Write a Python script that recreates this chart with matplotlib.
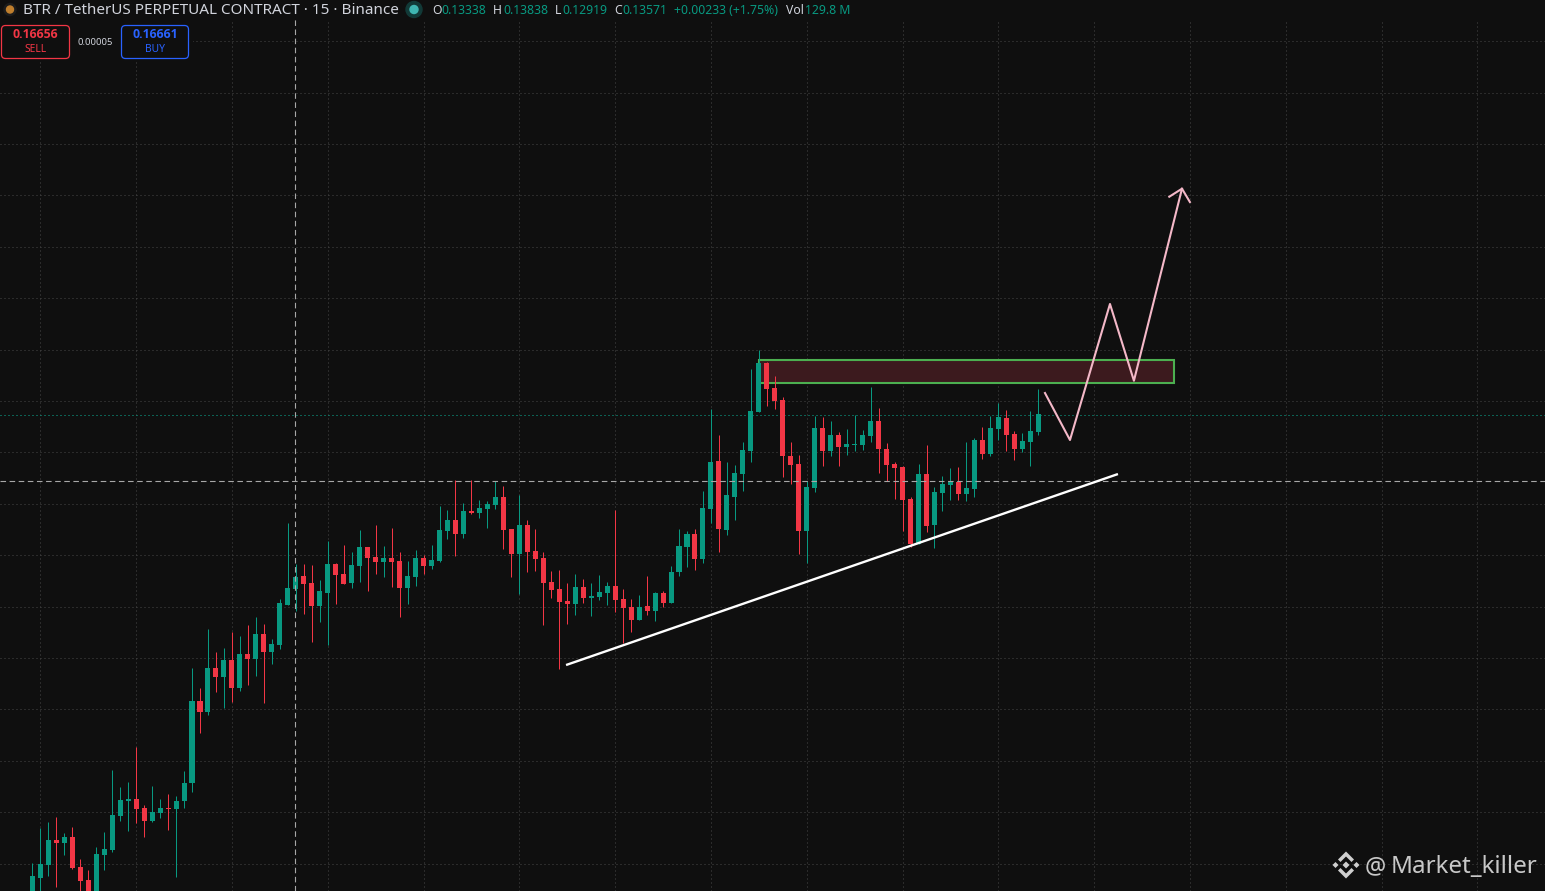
import matplotlib
matplotlib.use("Agg")
import matplotlib.pyplot as plt
from matplotlib.patches import Circle, FancyBboxPatch, Polygon, Rectangle
import numpy as np

# candles (15m BTR/USDT)
opens = [0.07429, 0.07721, 0.07974, 0.08460, 0.08402, 0.08518, 0.07934, 0.07682, 0.07390, 0.08168,
         0.08265, 0.08927, 0.09219, 0.09257, 0.09082, 0.08829, 0.08985, 0.09082, 0.09062, 0.09219,
         0.09569, 0.11164, 0.10950, 0.11806, 0.11631, 0.11962, 0.11417, 0.12078, 0.11981, 0.12468,
         0.12117, 0.12253, 0.13032, 0.13338, 0.13596, 0.13460, 0.13012, 0.13265, 0.13829, 0.13635,
         0.13460, 0.13790, 0.14160, 0.13965, 0.13868, 0.13946, 0.13887, 0.13362, 0.13576, 0.13946,
         0.13790, 0.13887, 0.14471, 0.14685, 0.14413, 0.14860, 0.14821, 0.14899, 0.14977, 0.15133,
         0.14510, 0.14024, 0.14588, 0.14082, 0.13946, 0.13479, 0.13343, 0.13110, 0.13051, 0.13382,
         0.13168, 0.13187, 0.13265, 0.13401, 0.13148, 0.12992, 0.12740, 0.13012, 0.12915, 0.13265,
         0.13071, 0.13674, 0.14160, 0.14413, 0.13927, 0.14899, 0.15833, 0.14491, 0.15133, 0.15580,
         0.16028, 0.16787, 0.17740, 0.17254, 0.17020, 0.15931, 0.15775, 0.14471, 0.15308, 0.16475,
         0.16028, 0.16339, 0.16106, 0.16145, 0.16145, 0.16320, 0.16611, 0.16067, 0.15775, 0.15716,
         0.15094, 0.14219, 0.15580, 0.14588, 0.15211, 0.15366, 0.15425, 0.15191, 0.15289, 0.16242,
         0.15969, 0.16456, 0.16670, 0.16359, 0.16067, 0.16203, 0.16397]
highs = [0.08013, 0.08693, 0.08810, 0.08907, 0.08596, 0.08712, 0.08090, 0.07876, 0.08323, 0.08615,
         0.09822, 0.09491, 0.09588, 0.10269, 0.09141, 0.09510, 0.09257, 0.09355, 0.09316, 0.09802,
         0.11806, 0.11417, 0.12565, 0.12117, 0.12195, 0.12506, 0.12429, 0.12643, 0.12799, 0.12662,
         0.12370, 0.13148, 0.14627, 0.13838, 0.13829, 0.13810, 0.13518, 0.14277, 0.13849, 0.14199,
         0.14063, 0.14491, 0.14160, 0.14588, 0.14180, 0.14530, 0.14063, 0.13887, 0.14102, 0.14005,
         0.14199, 0.14958, 0.14880, 0.15464, 0.15016, 0.15464, 0.15075, 0.15055, 0.15444, 0.15347,
         0.14510, 0.15172, 0.14685, 0.14510, 0.14063, 0.13693, 0.13713, 0.13460, 0.13635, 0.13538,
         0.13460, 0.13616, 0.13479, 0.14880, 0.13343, 0.13148, 0.13226, 0.13596, 0.13285, 0.13304,
         0.13790, 0.14510, 0.14471, 0.14510, 0.15250, 0.16845, 0.16339, 0.15814, 0.15755, 0.16203,
         0.17623, 0.17993, 0.17759, 0.17487, 0.17079, 0.16203, 0.15950, 0.15444, 0.16709, 0.16689,
         0.16611, 0.16397, 0.16456, 0.16729, 0.16436, 0.17273, 0.16864, 0.16184, 0.15814, 0.15736,
         0.15133, 0.15775, 0.16145, 0.15327, 0.15541, 0.15697, 0.15716, 0.16203, 0.16281, 0.16495,
         0.16709, 0.16962, 0.16825, 0.16417, 0.16378, 0.16806, 0.17234]
lows = [0.07293, 0.07390, 0.07759, 0.07546, 0.08168, 0.07896, 0.07390, 0.07293, 0.07293, 0.07876,
        0.08226, 0.08829, 0.08634, 0.08791, 0.08518, 0.08810, 0.08888, 0.08654, 0.07740, 0.09082,
        0.09394, 0.10541, 0.10892, 0.11339, 0.11028, 0.11145, 0.11359, 0.11475, 0.11650, 0.11125,
        0.11884, 0.12175, 0.13032, 0.12919, 0.12856, 0.12312, 0.12701, 0.12253, 0.13051, 0.13440,
        0.13362, 0.13479, 0.13304, 0.13635, 0.13576, 0.13382, 0.12799, 0.13051, 0.13401, 0.13635,
        0.13732, 0.13868, 0.14316, 0.13985, 0.14335, 0.14802, 0.14724, 0.14530, 0.14899, 0.14121,
        0.13576, 0.13246, 0.13674, 0.13693, 0.12643, 0.13168, 0.11787, 0.12662, 0.12837, 0.13071,
        0.12818, 0.13129, 0.13032, 0.12895, 0.12292, 0.12506, 0.12740, 0.12837, 0.12720, 0.12992,
        0.13071, 0.13596, 0.13771, 0.13713, 0.13849, 0.14627, 0.14063, 0.14394, 0.14685, 0.15250,
        0.15814, 0.16787, 0.16903, 0.16845, 0.15522, 0.15386, 0.14024, 0.13849, 0.15230, 0.15736,
        0.15931, 0.15736, 0.15950, 0.16028, 0.16047, 0.16203, 0.15600, 0.15444, 0.15094, 0.14471,
        0.14160, 0.14219, 0.14452, 0.14141, 0.14860, 0.15075, 0.15075, 0.15055, 0.15133, 0.15872,
        0.15931, 0.16242, 0.16028, 0.15853, 0.16008, 0.15736, 0.16339]
closes = [0.07759, 0.07993, 0.08460, 0.08402, 0.08518, 0.07915, 0.07662, 0.07390, 0.08187, 0.08285,
          0.08946, 0.09238, 0.09257, 0.09062, 0.08829, 0.09004, 0.09082, 0.09062, 0.09219, 0.09569,
          0.11164, 0.10950, 0.11806, 0.11631, 0.11962, 0.11417, 0.12078, 0.11981, 0.12468, 0.12117,
          0.12273, 0.13071, 0.13362, 0.13571, 0.13440, 0.13012, 0.13304, 0.13829, 0.13616, 0.13440,
          0.13810, 0.14160, 0.13946, 0.13868, 0.13946, 0.13868, 0.13362, 0.13596, 0.13946, 0.13790,
          0.13907, 0.14491, 0.14685, 0.14413, 0.14860, 0.14821, 0.14919, 0.14997, 0.15133, 0.14491,
          0.14024, 0.14588, 0.14063, 0.13927, 0.13460, 0.13324, 0.13090, 0.13051, 0.13382, 0.13168,
          0.13207, 0.13285, 0.13401, 0.13129, 0.12973, 0.12740, 0.12992, 0.12915, 0.13265, 0.13071,
          0.13674, 0.14180, 0.14413, 0.13927, 0.14919, 0.15814, 0.14510, 0.15172, 0.15600, 0.16047,
          0.16806, 0.17740, 0.17234, 0.17001, 0.15931, 0.15755, 0.14471, 0.15327, 0.16475, 0.16028,
          0.16339, 0.16106, 0.16164, 0.16164, 0.16339, 0.16611, 0.16067, 0.15755, 0.15697, 0.15075,
          0.14219, 0.15580, 0.14569, 0.15230, 0.15386, 0.15425, 0.15191, 0.15308, 0.16242, 0.15969,
          0.16475, 0.16689, 0.16339, 0.16067, 0.16222, 0.16417, 0.16747]

# drawings on the chart, bar number and price
trend_x = [66.85, 135.98]
trend_y = [0.11864, 0.15580]
path_x = [126.84, 129.97, 134.98, 137.98, 144.0]
path_y = [0.17156, 0.16242, 0.18888, 0.17395, 0.21131]
head_x = [142.41, 144.0, 144.99]
head_y = [0.20975, 0.21131, 0.20872]
zone_x = [91.0, 143.0]
zone_y = [0.17351, 0.17798]
last_price = 0.16728
cross_bar = 32.95
cross_price = 0.15441
grid_prices = [0.08 + 0.01 * i for i in range(17)]
grid_bars = list(range(1, 190, 12))

BG = "#0f0f0f"
GREEN = "#089981"
RED = "#f23645"
W, H = 1545, 891
plt.rcParams["font.family"] = ["Noto Sans", "DejaVu Sans"]

fig = plt.figure(figsize=(W / 100, H / 100), dpi=100, facecolor=BG)
ax = fig.add_axes([0, 0, 1, 1], facecolor=BG)
ax.set_xlim(-4.05, 189.47)
ax.set_ylim(0.07468, 0.24802)
ax.axis("off")

# grid
dots = (0, (1, 3))
for p in grid_prices:
    ax.axhline(p, color="#484848", lw=0.72, ls=dots, zorder=1)
for b in grid_bars:
    ax.axvline(b, color="#484848", lw=0.72, ls=dots, zorder=1)

ax.axhline(last_price, color="#0bb497", lw=0.72, ls=dots, zorder=2)

# resistance box goes under the candles
ax.add_patch(Rectangle((zone_x[0], zone_y[0]), zone_x[1] - zone_x[0], zone_y[1] - zone_y[0],
                       facecolor="#3c1a1e", edgecolor="#4caf50", lw=1.5, zorder=2))

# candles
x = np.arange(len(opens))
o = np.array(opens)
c = np.array(closes)
colors = [GREEN if a >= b else RED for a, b in zip(c, o)]
wicks = ax.vlines(x, lows, highs, colors=colors, lw=0.72, zorder=3)
wicks.set_snap(True)
ax.bar(x, np.abs(c - o), bottom=np.minimum(o, c), width=0.63, color=colors, lw=0, zorder=4)

# crosshair
dash = (0, (5, 3.2))
ax.axhline(cross_price, color="#a8a8a8", lw=0.8, ls=dash, zorder=5)
ax.axvline(cross_bar, color="#a8a8a8", lw=0.8, ls=dash, zorder=5)

# trend line and projected path
ax.plot(trend_x, trend_y, color="white", lw=1.7, zorder=6, solid_capstyle="butt")
ax.plot(path_x, path_y, color="#f4b8c8", lw=1.5, zorder=6)
ax.plot(head_x, head_y, color="#f4b8c8", lw=1.5, zorder=6)


def fx(px):
    return px / W


def fy(py):
    return 1 - py / H


def label(px, py, s, color, size, ha="left", weight="normal", family=None):
    fig.text(fx(px), fy(py + 1), s, color=color, fontsize=size, ha=ha, va="center",
             weight=weight, family=family, zorder=12)


def dot(px, py, r, color):
    fig.add_artist(Circle((px, H - py), r, transform=None, color=color, zorder=11))


# header strip and the order panel hide the grid behind them
fig.add_artist(Rectangle((0, fy(20)), 1, 20 / H, transform=fig.transFigure, facecolor=BG, edgecolor="none", zorder=10))
fig.add_artist(Rectangle((0, fy(62)), fx(193), 42 / H, transform=fig.transFigure, facecolor=BG, edgecolor="none", zorder=10))

label(23, 9.5, "BTR / TetherUS PERPETUAL CONTRACT · 15 · Binance", "#d1d4dc", 11)
dot(10, 9.5, 6, "#1c1c1c")
dot(10, 9.5, 3.5, "#c07f2d")
dot(414, 9.5, 8, "#123a38")
dot(414, 9.5, 4, "#3fb6b2")

ohlc_labels = ["O", "H", "L", "C"]
ohlc_x = [432, 493, 555, 614]
ohlc_vals = ["0.13338", "0.13838", "0.12919", "0.13571"]
ohlc_val_x = [441, 503, 562, 622]
for lab, lx, val, vx in zip(ohlc_labels, ohlc_x, ohlc_vals, ohlc_val_x):
    label(lx, 9.5, lab, "#d1d4dc", 8.8)
    label(vx, 9.5, val, GREEN, 8.8)
label(674, 9.5, "+0.00233 (+1.75%)", GREEN, 8.8)
label(786, 9.5, "Vol", "#d1d4dc", 8.8)
label(805, 9.5, "129.8 M", GREEN, 8.8)

# sell / buy buttons
for px0, px1, col, price, word in [(1.5, 69.5, RED, "0.16656", "SELL"), (121.5, 188.5, "#2962ff", "0.16661", "BUY")]:
    fig.add_artist(FancyBboxPatch((px0, H - 58.5), px1 - px0, 33, boxstyle="round,pad=0,rounding_size=4",
                                  transform=None, facecolor=BG, edgecolor=col, lw=0.9, zorder=11))
    mid = (px0 + px1) / 2
    label(mid, 34, price, col, 8.8, ha="center", weight="bold", family="Open Sans")
    label(mid, 48.5, word, col, 7.4, ha="center")
label(95, 41.5, "0.00005", "#d1d4dc", 6.8, ha="center")

# watermark logo
cx, cy = 1346, 865
logo = "#cfcfcf"


def logo_poly(points):
    pts = [(fx(cx + a), fy(cy + b)) for a, b in points]
    fig.add_artist(Polygon(pts, closed=True, transform=fig.transFigure, facecolor=logo, edgecolor="none", zorder=11))


logo_poly([(0, -3.5), (3.5, 0), (0, 3.5), (-3.5, 0)])
logo_poly([(-13.5, 0), (-10.5, -3), (-7.5, 0), (-10.5, 3)])
logo_poly([(13.5, 0), (10.5, -3), (7.5, 0), (10.5, 3)])
logo_poly([(0, -13.5), (8, -5.5), (5.5, -3), (0, -8.5), (-5.5, -3), (-8, -5.5)])
logo_poly([(0, 13.5), (8, 5.5), (5.5, 3), (0, 8.5), (-5.5, 3), (-8, 5.5)])
label(1365, 866, "@", "#c8c8c8", 17)
label(1391, 866, "Market_killer", "#c8c8c8", 17.4)

fig.savefig("out.png", dpi=100, facecolor=BG)
